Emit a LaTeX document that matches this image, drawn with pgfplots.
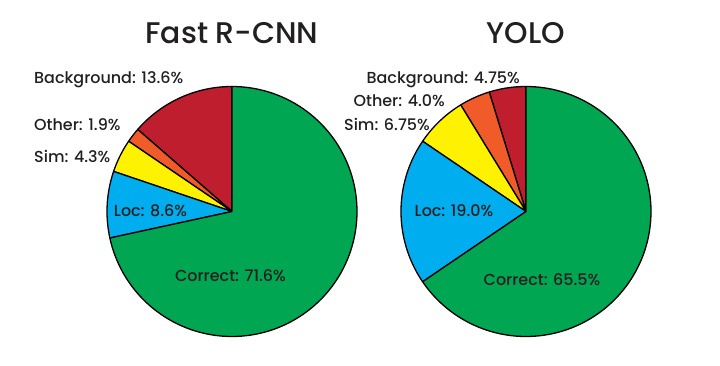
\documentclass[border=0pt]{standalone}
\usepackage{pgfplots}
\pgfplotsset{compat=1.18}
\usepackage{fontspec}
\setmainfont{Poppins}[UprightFont={* Medium}]
\definecolor{cgreen}{HTML}{00A651}
\definecolor{cblue}{HTML}{00AEEF}
\definecolor{cyellow}{HTML}{FFF200}
\definecolor{corange}{HTML}{F15A29}
\definecolor{cred}{HTML}{BE1E2D}
\definecolor{ctext}{HTML}{231F20}
% \slice{cx}{cy}{cumulative start %}{value %}{colour}
\newcommand{\slice}[5]{%
  \addplot[fill=#5, draw=black, line width=1.3pt, line join=round,
    domain={90+3.6*(#3)}:{90+3.6*((#3)+(#4))}, samples=120, variable=\t]
    ({#1+125*cos(t)},{#2+125*sin(t)}) -- (#1,#2) -- cycle;}
\begin{document}
\begin{tikzpicture}[x=1bp,y=1bp]
\path[use as bounding box] (0,0) rectangle (720,365);
\begin{axis}[at={(0,0)}, anchor=south west, width=720bp, height=365bp,
  scale only axis, xmin=0, xmax=720, ymin=0, ymax=365, hide axis, clip=false]
% Fast R-CNN: Background 13.6, Other 1.9, Sim 4.3, Loc 8.6, Correct 71.6
\slice{232}{153.5}{0}{13.6}{cred}
\slice{232}{153.5}{13.6}{1.9}{corange}
\slice{232}{153.5}{15.5}{4.3}{cyellow}
\slice{232}{153.5}{19.8}{8.6}{cblue}
\slice{232}{153.5}{28.4}{71.6}{cgreen}
% YOLO: Background 4.75, Other 4.0, Sim 6.75, Loc 19.0, Correct 65.5
\slice{526}{153.5}{0}{4.75}{cred}
\slice{526}{153.5}{4.75}{4.0}{corange}
\slice{526}{153.5}{8.75}{6.75}{cyellow}
\slice{526}{153.5}{15.5}{19.0}{cblue}
\slice{526}{153.5}{34.5}{65.5}{cgreen}
\end{axis}
\begin{scope}[every node/.style={text=ctext, inner sep=0pt, font=\fontsize{16}{19}\selectfont}]
\node[font=\fontsize{30}{36}\selectfont, anchor=base] at (232,322) {Fast R-CNN};
\node[font=\fontsize{30}{36}\selectfont, anchor=base] at (526,322) {YOLO};
\node[anchor=base west] at (34,282) {Background: 13.6\%};
\node[anchor=base west] at (34,235) {Other: 1.9\%};
\node[anchor=base west] at (34,203) {Sim: 4.3\%};
\node[anchor=base] at (150.5,149) {Loc: 8.6\%};
\node[anchor=base] at (230.5,84) {Correct: 71.6\%};
\node[anchor=base east] at (520,282) {Background: 4.75\%};
\node[anchor=base east] at (445,259) {Other: 4.0\%};
\node[anchor=base east] at (430,235) {Sim: 6.75\%};
\node[anchor=base] at (454,149) {Loc: 19.0\%};
\node[anchor=base] at (542,80) {Correct: 65.5\%};
\end{scope}
\end{tikzpicture}
\end{document}
